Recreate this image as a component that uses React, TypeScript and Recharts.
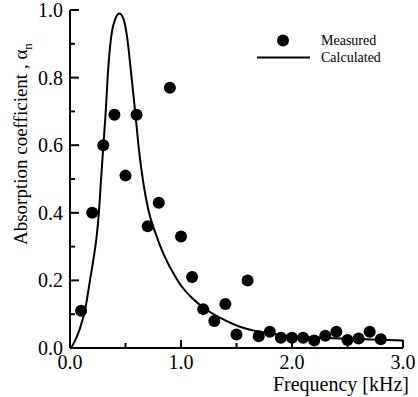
import { ComposedChart, Line, Scatter, XAxis, YAxis, Legend } from "recharts";

// measured absorption points
const freqMeasured = [0.1, 0.2, 0.3, 0.4, 0.5, 0.6, 0.7, 0.8, 0.9, 1.0, 1.1, 1.2, 1.3, 1.4, 1.5, 1.6, 1.7, 1.8, 1.9, 2.0, 2.1, 2.2, 2.3, 2.4, 2.5, 2.6, 2.7, 2.8];
const alphaMeasured = [0.11, 0.4, 0.6, 0.69, 0.51, 0.69, 0.36, 0.43, 0.77, 0.33, 0.21, 0.115, 0.08, 0.13, 0.04, 0.2, 0.035, 0.048, 0.03, 0.03, 0.03, 0.022, 0.036, 0.048, 0.024, 0.028, 0.048, 0.026];

// calculated curve
const freqCalc = [0.01, 0.05, 0.09, 0.14, 0.18, 0.21, 0.24, 0.26, 0.28, 0.3, 0.32, 0.345, 0.375, 0.41, 0.445, 0.48, 0.51, 0.555, 0.59, 0.62, 0.66, 0.705, 0.77, 0.84, 0.96, 1.0, 1.1, 1.2, 1.35, 1.53, 1.71, 2.07, 2.37, 3.0];
const alphaCalc = [0, 0.025, 0.058, 0.12, 0.2, 0.26, 0.33, 0.4, 0.5, 0.595, 0.69, 0.83, 0.93, 0.975, 0.99, 0.975, 0.93, 0.8, 0.69, 0.59, 0.49, 0.41, 0.34, 0.28, 0.205, 0.185, 0.148, 0.12, 0.09, 0.063, 0.048, 0.033, 0.029, 0.022];

const xTicks = [0, 0.5, 1, 1.5, 2, 2.5, 3];
const yTicks = [0, 0.1, 0.2, 0.3, 0.4, 0.5, 0.6, 0.7, 0.8, 0.9, 1.0];

const measured = freqMeasured.map((f, i) => ({ f, a: alphaMeasured[i] }));
const calculated = freqCalc.map((f, i) => ({ f, a: alphaCalc[i] }));

const FONT = "Liberation Serif";
const isMajorX = (v: number) => Math.abs(v - Math.round(v)) < 1e-6;
const isMajorY = (v: number) => Math.abs(v * 5 - Math.round(v * 5)) < 1e-6;

const BottomTick = (p: any) => {
  const v = p.payload.value;
  const major = isMajorX(v);
  return (
    <g>
      <line x1={p.x} x2={p.x} y1={p.y} y2={p.y - (major ? 8 : 5)} stroke="#000" strokeWidth={2} />
      {major && (
        <text x={p.x} y={p.y + 21} textAnchor="middle" style={{ fontFamily: FONT }} fontSize={20} fill="#000">
          {v.toFixed(1)}
        </text>
      )}
    </g>
  );
};

const TopTick = (p: any) => {
  const major = isMajorX(p.payload.value);
  return <line x1={p.x} x2={p.x} y1={p.y} y2={p.y + (major ? 8 : 5)} stroke="#000" strokeWidth={2} />;
};

const LeftTick = (p: any) => {
  const v = p.payload.value;
  const major = isMajorY(v);
  return (
    <g>
      <line x1={p.x} x2={p.x + (major ? 9 : 5)} y1={p.y} y2={p.y} stroke="#000" strokeWidth={2} />
      {major && (
        <text x={p.x - 7} y={p.y + 7} textAnchor="end" style={{ fontFamily: FONT }} fontSize={20} fill="#000">
          {v.toFixed(1)}
        </text>
      )}
    </g>
  );
};

const RightTick = (p: any) => {
  const major = isMajorY(p.payload.value);
  return <line x1={p.x} x2={p.x - (major ? 8 : 5)} y1={p.y} y2={p.y} stroke="#000" strokeWidth={2} />;
};

const YTitle = () => (
  <text x={27} y={245} transform="rotate(-90 27 245)" style={{ fontFamily: FONT }} fontSize={19} fill="#000">
    Absorption coefficient , α
    <tspan fontSize={13} dy={5}>n</tspan>
  </text>
);

const XTitle = () => (
  <text x={409} y={391} textAnchor="end" style={{ fontFamily: FONT }} fontSize={20} fill="#000">
    Frequency [kHz]
  </text>
);

const LegendBox = () => (
  <div style={{ fontFamily: FONT, fontSize: 14, color: "#000", lineHeight: "17px" }}>
    <div style={{ display: "flex", alignItems: "center", height: 17 }}>
      <svg width={66} height={17}>
        <circle cx={28} cy={8.5} r={6} fill="#000" />
      </svg>
      <span>Measured</span>
    </div>
    <div style={{ display: "flex", alignItems: "center", height: 17 }}>
      <svg width={66} height={17}>
        <line x1={2} x2={55} y1={8.5} y2={8.5} stroke="#000" strokeWidth={2} />
      </svg>
      <span>Calculated</span>
    </div>
  </div>
);

export default function App() {
  return (
    <div style={{ position: "absolute", left: 0, top: 0 }}>
      <ComposedChart width={418} height={396} margin={{ top: 10, right: 15, bottom: 0, left: 0 }}>
        <XAxis
          xAxisId="b"
          dataKey="f"
          type="number"
          domain={[0, 3]}
          ticks={xTicks}
          height={48}
          tickSize={0}
          tickMargin={0}
          tickLine={false}
          axisLine={{ stroke: "#000", strokeWidth: 2 }}
          tick={<BottomTick />}
          interval={0}
          allowDataOverflow
          label={<XTitle />}
        />
        <XAxis
          xAxisId="t"
          orientation="top"
          dataKey="f"
          type="number"
          domain={[0, 3]}
          ticks={xTicks}
          height={0}
          tickSize={0}
          tickMargin={0}
          tickLine={false}
          axisLine={{ stroke: "#000", strokeWidth: 2 }}
          tick={<TopTick />}
          interval={0}
          allowDataOverflow
        />
        <YAxis
          yAxisId="l"
          type="number"
          domain={[0, 1]}
          ticks={yTicks}
          width={70}
          tickSize={0}
          tickMargin={0}
          tickLine={false}
          axisLine={{ stroke: "#000", strokeWidth: 2 }}
          tick={<LeftTick />}
          interval={0}
          allowDataOverflow
          label={<YTitle />}
        />
        <YAxis
          yAxisId="r"
          orientation="right"
          type="number"
          domain={[0, 1]}
          ticks={yTicks}
          width={0}
          tickSize={0}
          tickMargin={0}
          tickLine={false}
          axisLine={{ stroke: "#000", strokeWidth: 2 }}
          tick={<RightTick />}
          interval={0}
          allowDataOverflow
        />
        <Legend
          layout="vertical"
          align="center"
          verticalAlign="middle"
          wrapperStyle={{ top: 32, left: 255, width: "auto" }}
          content={<LegendBox />}
        />
        <Line
          xAxisId="b"
          yAxisId="l"
          data={calculated}
          dataKey="a"
          type="monotone"
          stroke="#000"
          strokeWidth={2}
          dot={false}
          activeDot={false}
          isAnimationActive={false}
          name="Calculated"
        />
        <Scatter
          xAxisId="b"
          yAxisId="l"
          data={measured}
          dataKey="a"
          fill="#000"
          shape={(p: any) => <circle cx={p.cx} cy={p.cy} r={6} fill="#000" />}
          isAnimationActive={false}
          name="Measured"
        />
      </ComposedChart>
    </div>
  );
}
